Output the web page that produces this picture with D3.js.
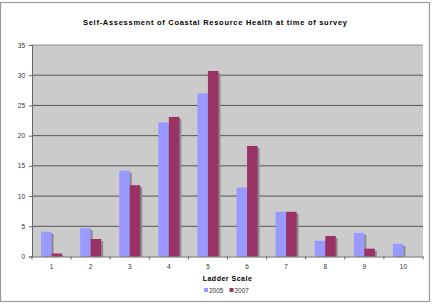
<!DOCTYPE html>
<html>
<head>
<meta charset="utf-8">
<script src="https://cdn.jsdelivr.net/npm/d3@7"></script>
<style>
  body { margin: 0; background: #fff; }
  text { font-family: "Liberation Sans", Arial, sans-serif; }
</style>
</head>
<body>
<div id="chart"></div>
<script>
const categories = ['1', '2', '3', '4', '5', '6', '7', '8', '9', '10'];
const series2005 = [4.1, 4.7, 14.2, 22.2, 27.0, 11.4, 7.4, 2.6, 3.9, 2.1];
const series2007 = [0.5, 2.9, 11.8, 23.1, 30.7, 18.3, 7.4, 3.4, 1.3, 0];
const yTicks = [0, 5, 10, 15, 20, 25, 30, 35];
const seriesNames = ['2005', '2007'];
const colors = ['#9999ff', '#993366'];

const W = 433, H = 307;
const margin = { top: 45, right: 10, bottom: 50, left: 32 };
const width = 423 - margin.left;
const height = 256.5 - margin.top;

const svg = d3.select('#chart')
  .append('svg')
  .attr('width', W)
  .attr('height', H);

// outer frame
svg.append('rect')
  .attr('x', 0.5).attr('y', 2.5)
  .attr('width', 429).attr('height', 299)
  .attr('fill', '#fff')
  .attr('stroke', '#9a9a9a')
  .attr('stroke-width', 1.2);

svg.append('text')
  .attr('x', 215).attr('y', 25)
  .attr('text-anchor', 'middle')
  .attr('font-size', 7.5)
  .attr('font-weight', 'bold')
  .attr('textLength', 264)
  .attr('lengthAdjust', 'spacing')
  .text('Self-Assessment of Coastal Resource Health at time of survey');

const g = svg.append('g')
  .attr('transform', 'translate(' + margin.left + ',' + margin.top + ')');

const x = d3.scaleBand()
  .domain(categories)
  .range([0, width]);

const x1 = d3.scaleBand()
  .domain(seriesNames)
  .range([0, x.bandwidth()])
  .paddingOuter(0.86);

const y = d3.scaleLinear()
  .domain([0, 35])
  .range([height, 0]);

// plot background
g.append('rect')
  .attr('width', width)
  .attr('height', height)
  .attr('fill', '#cbcbcb');

// gridlines
g.selectAll('.grid')
  .data(yTicks.filter(d => d > 0))
  .enter()
  .append('line')
  .attr('x1', 0).attr('x2', width)
  .attr('y1', d => y(d)).attr('y2', d => y(d))
  .attr('stroke', d => d === 35 ? '#8a8a8a' : '#555')
  .attr('stroke-width', 1);

const rows = categories.map((c, i) => ({ cat: c, vals: [series2005[i], series2007[i]] }));

const groups = g.selectAll('.grp')
  .data(rows)
  .enter()
  .append('g')
  .attr('transform', d => 'translate(' + x(d.cat) + ',0)');

// shadows
groups.selectAll('.shadow')
  .data(d => d.vals.map((v, j) => ({ v, s: seriesNames[j] })).filter(d => d.v > 0))
  .enter()
  .append('rect')
  .attr('x', d => x1(d.s) + 2)
  .attr('y', d => y(d.v) + 2)
  .attr('width', x1.bandwidth())
  .attr('height', d => Math.max(0, height - y(d.v) - 2))
  .attr('fill', '#8c8c8c');

groups.selectAll('.bar')
  .data(d => d.vals.map((v, j) => ({ v, s: seriesNames[j], j })).filter(d => d.v > 0))
  .enter()
  .append('rect')
  .attr('x', d => x1(d.s))
  .attr('y', d => y(d.v))
  .attr('width', x1.bandwidth())
  .attr('height', d => height - y(d.v))
  .attr('fill', d => colors[d.j]);

// y axis
const yAxis = g.append('g')
  .call(d3.axisLeft(y).tickValues(yTicks).tickSize(3).tickPadding(4));
yAxis.select('.domain').attr('stroke', '#666');
yAxis.selectAll('.tick line').attr('stroke', '#666');
yAxis.selectAll('text').attr('font-size', 6.5).attr('fill', '#333');

// x axis
const xAxis = g.append('g')
  .attr('transform', 'translate(0,' + height + ')')
  .call(d3.axisBottom(x).tickSize(0).tickPadding(8));
xAxis.select('.domain').attr('stroke', '#666');
xAxis.selectAll('text').attr('font-size', 6.5).attr('fill', '#333');

xAxis.selectAll('.bound')
  .data(d3.range(categories.length + 1))
  .enter()
  .append('line')
  .attr('x1', i => i * x.step()).attr('x2', i => i * x.step())
  .attr('y1', 0).attr('y2', 3)
  .attr('stroke', '#666');

svg.append('text')
  .attr('x', margin.left + width / 2).attr('y', 281)
  .attr('text-anchor', 'middle')
  .attr('font-size', 7)
  .attr('font-weight', 'bold')
  .attr('letter-spacing', 0.5)
  .text('Ladder Scale');

// legend
const legend = svg.append('g')
  .attr('transform', 'translate(204,292)');
const items = legend.selectAll('.item')
  .data(seriesNames)
  .enter()
  .append('g')
  .attr('transform', (d, i) => 'translate(' + (i * 25.5) + ',0)');
items.append('rect')
  .attr('x', 0).attr('y', -4)
  .attr('width', 4).attr('height', 4)
  .attr('fill', (d, i) => colors[i]);
items.append('text')
  .attr('x', 5).attr('y', 0.5)
  .attr('font-size', 6.5)
  .attr('fill', '#333')
  .text(d => d);
</script>
</body>
</html>
